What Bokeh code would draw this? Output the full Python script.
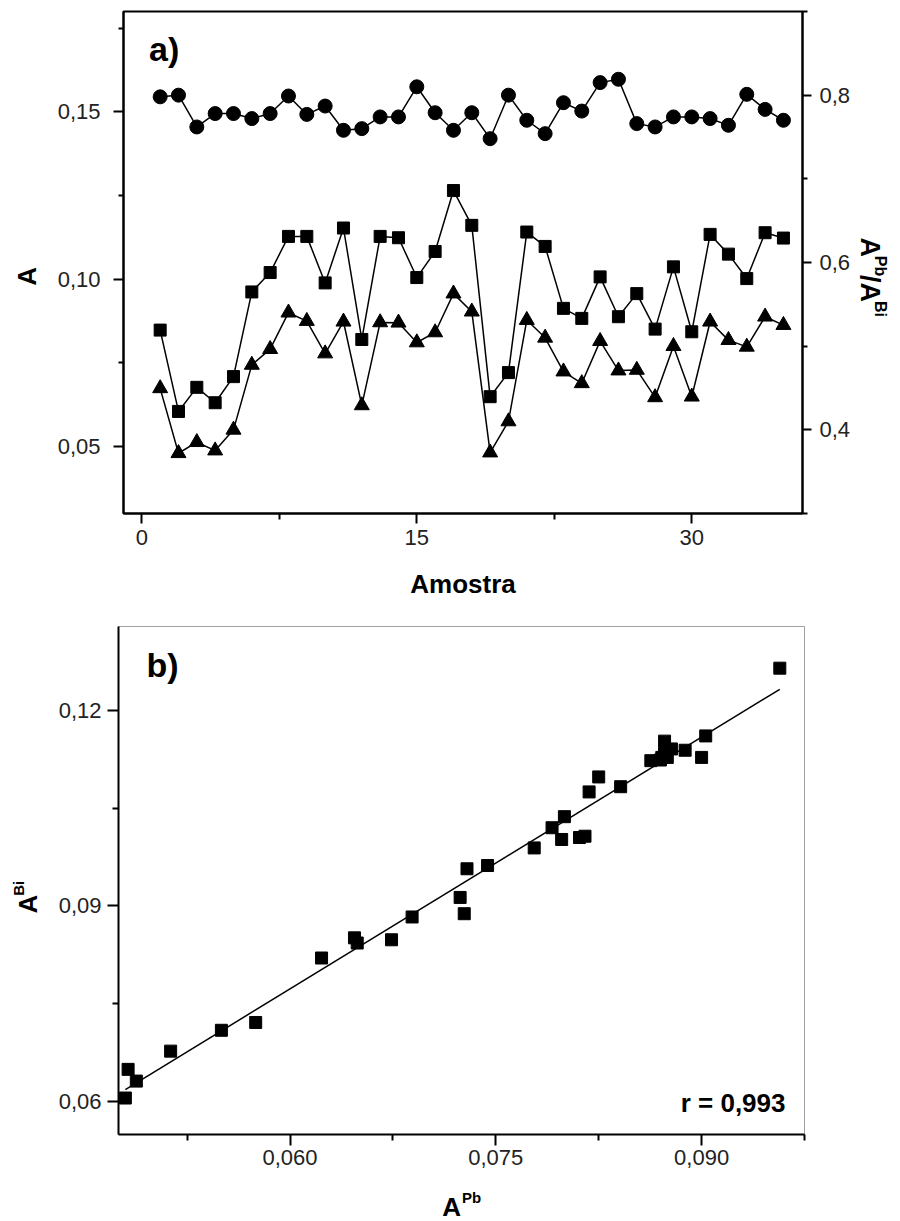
import math
import numpy as np
from bokeh.plotting import figure
from bokeh.models import (Range1d, LinearAxis, FixedTicker, CustomJSTickFormatter,
                          Label, ColumnDataSource)
from bokeh.layouts import column, row
from bokeh.embed import file_html
from bokeh.resources import INLINE

# ---------------- data ----------------
amostra = [1, 2, 3, 4, 5, 6, 7, 8, 9, 10, 11, 12, 13, 14, 15, 16, 17, 18,
           19, 20, 21, 22, 23, 24, 25, 26, 27, 28, 29, 30, 31, 32, 33, 34, 35]

# ratio A_Pb / A_Bi (circles, right axis)
razao_pb_bi = [0.798, 0.800, 0.762, 0.778, 0.778, 0.772, 0.778, 0.799, 0.777, 0.787,
               0.758, 0.760, 0.774, 0.774, 0.810, 0.779, 0.758, 0.779, 0.748, 0.800,
               0.770, 0.754, 0.791, 0.781, 0.815, 0.819, 0.766, 0.762, 0.774, 0.774,
               0.772, 0.764, 0.801, 0.783, 0.770]

# A_Bi (squares)
a_bi = [0.0848, 0.0605, 0.0677, 0.0631, 0.0709, 0.0962, 0.1020, 0.1128, 0.1128, 0.0989,
        0.1153, 0.0820, 0.1128, 0.1124, 0.1005, 0.1083, 0.1265, 0.1161, 0.0649, 0.0721,
        0.1141, 0.1098, 0.0913, 0.0883, 0.1007, 0.0888, 0.0957, 0.0851, 0.1037, 0.0843,
        0.1134, 0.1075, 0.1002, 0.1139, 0.1123]

# A_Pb (triangles)
a_pb = [0.0674, 0.0480, 0.0513, 0.0488, 0.0550, 0.0744, 0.0791, 0.0900, 0.0875, 0.0778,
        0.0873, 0.0623, 0.0871, 0.0870, 0.0811, 0.0841, 0.0957, 0.0903, 0.0482, 0.0575,
        0.0878, 0.0825, 0.0724, 0.0689, 0.0815, 0.0727, 0.0729, 0.0647, 0.0800, 0.0649,
        0.0873, 0.0818, 0.0798, 0.0888, 0.0863]

xa_ticks = [0, 15, 30]
xa_minor = [7.5, 22.5]
ya_ticks = [0.05, 0.10, 0.15]
ya_minor = [0.075, 0.125, 0.175]
yr_ticks = [0.4, 0.6, 0.8]
yr_minor = [0.3, 0.5, 0.7, 0.9]
xb_ticks = [0.060, 0.075, 0.090]
xb_minor = [0.0525, 0.0675, 0.0825, 0.0975]
yb_ticks = [0.06, 0.09, 0.12]
yb_minor = [0.075, 0.105]
r_text = "r = 0,993"

FONT = "Liberation Sans"
W_BOLD = {"A": 0.722, "P": 0.667, "b": 0.611, "B": 0.722, "i": 0.278, "/": 0.278}
MID = 0.3465      # em distance baseline -> middle of the text box
ROT_FIX = 19.0    # empirical screen-y correction for rotated labels


def style_axis(ax, ticks, minor, code, tick_out, minor_out, standoff):
    ax.ticker = FixedTicker(ticks=ticks, minor_ticks=minor)
    ax.formatter = CustomJSTickFormatter(code=code)
    ax.axis_line_width = 2
    ax.axis_line_color = "black"
    ax.major_tick_line_width = 2
    ax.minor_tick_line_width = 2
    ax.major_tick_line_color = "black"
    ax.minor_tick_line_color = "black"
    ax.major_tick_in = 0
    ax.major_tick_out = tick_out
    ax.minor_tick_in = 0
    ax.minor_tick_out = minor_out
    ax.major_label_text_font = FONT
    ax.major_label_text_font_size = "22px"
    ax.major_label_text_color = "#222222"
    ax.major_label_standoff = standoff


def mk_label(x, y, text, size, angle=0.0, align="left"):
    return Label(x=x, y=y, text=text, text_font=FONT, text_font_style="bold",
                 text_font_size=f"{size}px", angle=angle, text_align=align,
                 text_baseline="middle", text_color="black")


def in_frame(p, fr, xr, yr, px, py_base, text, size, align="left"):
    """px, py_base: global pixel position (left/right edge, baseline)."""
    L, T, W, H = fr
    py = py_base - MID * size
    x = xr[0] + (px - L) / W * (xr[1] - xr[0])
    y = yr[1] - (py - T) / H * (yr[1] - yr[0])
    p.add_layout(mk_label(x, y, text, size, 0.0, align))


def text_fig(w, h):
    f = figure(width=w, height=h, x_range=Range1d(0, w), y_range=Range1d(0, h),
               output_backend="svg", toolbar_location=None, min_border=0,
               x_axis_location=None, y_axis_location=None, outline_line_color=None,
               background_fill_color="white", border_fill_color="white")
    f.grid.visible = False
    return f


def rich(f, h, px, py, parts, angle, align="left"):
    """px, py: local pixel start of baseline (y from top). parts: (text, size, rise)."""
    dx, dy = math.cos(angle), -math.sin(angle)
    ux, uy = -math.sin(angle), -math.cos(angle)
    fix = ROT_FIX if angle != 0 else 0.0
    off = 0.0
    for txt, size, rise in parts:
        r = rise + MID * size
        qx = px + dx * off + ux * r
        qy = py + dy * off + uy * r + fix
        f.add_layout(mk_label(qx, h - qy, txt, size, angle, align))
        off += sum(W_BOLD.get(c, 0.6) for c in txt) * size + 1.0


# ---------------- panel a ----------------
XA = (-1.0, 36.04)
YA = (0.030, 0.180)
FRA = (123, 11, 679, 502)          # global frame: left, top, width, height
pa = figure(width=811, height=560, x_range=Range1d(*XA), y_range=Range1d(*YA),
            output_backend="svg", toolbar_location=None,
            min_border_left=78, min_border_right=54, min_border_top=11, min_border_bottom=47,
            background_fill_color="white", border_fill_color="white")
pa.extra_y_ranges = {"razao": Range1d(0.30, 0.90)}
pa.grid.visible = False
pa.outline_line_color = "black"
pa.outline_line_width = 2
style_axis(pa.xaxis[0], xa_ticks, xa_minor, "return tick.toFixed(0);", 10, 6, 6)
style_axis(pa.yaxis[0], ya_ticks, ya_minor, "return tick.toFixed(2).replace('.', ',');", 10, 5, 13)
right = LinearAxis(y_range_name="razao")
style_axis(right, yr_ticks, yr_minor, "return tick.toFixed(1).replace('.', ',');", 9, 5, 8)
pa.add_layout(right, "right")

src = ColumnDataSource(dict(amostra=amostra, razao=razao_pb_bi, a_bi=a_bi, a_pb=a_pb))
pa.line("amostra", "razao", source=src, y_range_name="razao", line_color="black", line_width=1.5)
pa.scatter("amostra", "razao", source=src, y_range_name="razao", marker="circle", size=14,
           fill_color="black", line_color="black")
pa.line("amostra", "a_bi", source=src, line_color="black", line_width=1.5)
pa.scatter("amostra", "a_bi", source=src, marker="square", size=12,
           fill_color="black", line_color="black")
pa.line("amostra", "a_pb", source=src, line_color="black", line_width=1.5)
pa.scatter("amostra", "a_pb", source=src, marker="triangle", size=15,
           fill_color="black", line_color="black")
in_frame(pa, FRA, XA, YA, 148.5, 59.8, "a)", 34)

# axis titles of panel a
ta_left = text_fig(45, 560)
rich(ta_left, 560, 36, 287, [("A", 26, 0)], math.pi / 2)
ta_right = text_fig(44, 560)
rich(ta_right, 560, 4, 233,
     [("A", 27, 0), ("Pb", 16, 14), ("/", 27, 0), ("A", 27, 0), ("Bi", 16, 14)],
     -math.pi / 2)
ta_bottom = text_fig(900, 55)
ta_bottom.add_layout(mk_label(462.5, 55 - (33 - MID * 26), "Amostra", 26, 0.0, "center"))

# ---------------- panel b ----------------
XB = (0.0475, 0.0975)
YB = (0.0549, 0.1329)
FRB = (118, 626, 686, 508)
pb = figure(width=855, height=570, x_range=Range1d(*XB), y_range=Range1d(*YB),
            output_backend="svg", toolbar_location=None,
            min_border_left=73, min_border_right=96, min_border_top=11, min_border_bottom=51,
            background_fill_color="white", border_fill_color="white")
pb.grid.visible = False
pb.outline_line_color = "#a0a0a0"
pb.outline_line_width = 1
style_axis(pb.xaxis[0], xb_ticks, xb_minor, "return tick.toFixed(3).replace('.', ',');", 11, 6, 4)
style_axis(pb.yaxis[0], yb_ticks, yb_minor, "return tick.toFixed(2).replace('.', ',');", 11, 6, 6)

slope, intercept = np.polyfit(a_pb, a_bi, 1)
x_fit = [min(a_pb), max(a_pb)]
y_fit = [slope * v + intercept for v in x_fit]
pb.line(x_fit, y_fit, line_color="black", line_width=1.5)
pb.scatter(a_pb, a_bi, marker="square", size=12, fill_color="black", line_color="black")

in_frame(pb, FRB, XB, YB, 146, 676.5, "b)", 34)
in_frame(pb, FRB, XB, YB, 785, 1111.7, r_text, 26, align="right")

tb_left = text_fig(45, 570)
rich(tb_left, 570, 37, 303, [("A", 26, 0), ("Bi", 15, 14)], math.pi / 2)
tb_bottom = text_fig(900, 36)
rich(tb_bottom, 36, 441.7, 31, [("A", 26, 0), ("Pb", 15, 14)], 0.0)

layout = column(row(ta_left, pa, ta_right), ta_bottom, row(tb_left, pb), tb_bottom)
open("out.html", "w").write(file_html(layout, INLINE))
